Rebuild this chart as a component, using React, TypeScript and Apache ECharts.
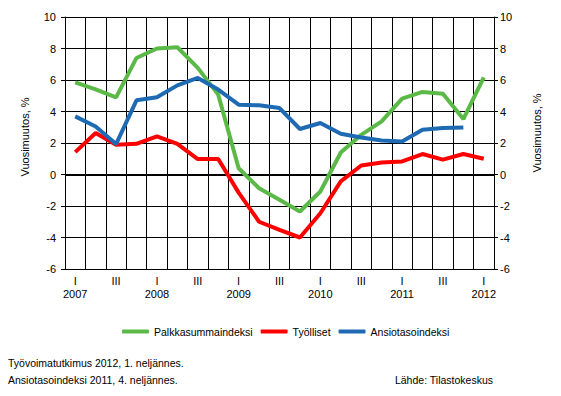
import React, { useEffect, useRef } from "react";
import * as echarts from "echarts";

const categories = [
  "2007 I", "2007 II", "2007 III", "2007 IV",
  "2008 I", "2008 II", "2008 III", "2008 IV",
  "2009 I", "2009 II", "2009 III", "2009 IV",
  "2010 I", "2010 II", "2010 III", "2010 IV",
  "2011 I", "2011 II", "2011 III", "2011 IV",
  "2012 I",
];

const palkkasumma = [5.85, 5.4, 4.9, 7.4, 8.0, 8.08, 6.77, 5.07, 0.4, -0.87, -1.6, -2.35, -1.08, 1.4, 2.52, 3.37, 4.82, 5.24, 5.13, 3.52, 6.17];
const tyolliset = [1.42, 2.63, 1.89, 1.95, 2.42, 1.95, 0.98, 0.98, -1.15, -3.0, -3.52, -4.0, -2.46, -0.44, 0.57, 0.76, 0.83, 1.3, 0.94, 1.3, 1.0];
const ansiotaso = [3.69, 3.05, 1.93, 4.71, 4.9, 5.66, 6.13, 5.39, 4.43, 4.39, 4.22, 2.89, 3.27, 2.59, 2.35, 2.16, 2.1, 2.84, 2.95, 2.99, null];

const seriesNames = ["Palkkasummaindeksi", "Työlliset", "Ansiotasoindeksi"];
const colors = ["#5bb947", "#ff0000", "#1f6bb3"];

const FONT = "Arial, 'Liberation Sans', sans-serif";
const NOTE_SIZE = 10.5;

export default function App() {
  const ref = useRef<HTMLDivElement>(null);

  useEffect(() => {
    document.body.style.margin = "0";
    if (!ref.current) return;
    const chart = echarts.init(ref.current, undefined, { renderer: "svg" });
    const yAxisBase = {
      type: "value",
      min: -6,
      max: 10,
      interval: 2,
      axisLine: { show: true, lineStyle: { color: "#000", width: 1 } },
      axisTick: { show: true, length: 4, lineStyle: { color: "#000" } },
      axisLabel: { color: "#000", fontSize: 11, fontFamily: FONT },
    };
    chart.setOption({
      animation: false,
      backgroundColor: "#fff",
      textStyle: { fontFamily: FONT },
      grid: { left: 65, right: 67, top: 17, height: 252 },
      legend: {
        left: 117,
        top: 321,
        icon: "roundRect",
        itemWidth: 27,
        itemHeight: 4,
        itemGap: 8,
        textStyle: { color: "#000", fontSize: NOTE_SIZE, fontFamily: FONT },
        data: seriesNames,
      },
      xAxis: {
        type: "category",
        data: categories,
        boundaryGap: true,
        axisLine: { show: true, lineStyle: { color: "#000", width: 1 } },
        axisTick: { show: false },
        splitLine: { show: true, interval: 0, lineStyle: { color: "#000", width: 1 } },
        axisLabel: {
          interval: 0,
          color: "#000",
          fontSize: 11,
          fontFamily: FONT,
          lineHeight: 13,
          margin: 5,
          formatter: (value: string) => {
            const [year, q] = value.split(" ");
            if (q === "I") return "I\n" + year;
            if (q === "III") return "III";
            return "";
          },
        },
      },
      yAxis: [
        {
          ...yAxisBase,
          position: "left",
          splitLine: { show: true, lineStyle: { color: "#000", width: 1 } },
          axisLabel: { ...yAxisBase.axisLabel, margin: 9 },
        },
        {
          ...yAxisBase,
          position: "right",
          splitLine: { show: false },
          axisLabel: { ...yAxisBase.axisLabel, margin: 6 },
        },
      ],
      graphic: [
        {
          type: "text",
          x: 25,
          y: 137,
          rotation: Math.PI / 2,
          style: { text: "Vuosimuutos, %", fill: "#000", fontSize: 11, fontFamily: FONT, align: "center", verticalAlign: "middle" },
        },
        {
          type: "text",
          x: 537,
          y: 133,
          rotation: Math.PI / 2,
          style: { text: "Vuosimuutos, %", fill: "#000", fontSize: 11, fontFamily: FONT, align: "center", verticalAlign: "middle" },
        },
        {
          type: "text",
          x: 8,
          y: 363,
          style: { text: "Työvoimatutkimus 2012, 1. neljännes.", fill: "#000", fontSize: NOTE_SIZE, fontFamily: FONT, verticalAlign: "middle" },
        },
        {
          type: "text",
          x: 8,
          y: 380,
          style: { text: "Ansiotasoindeksi 2011, 4. neljännes.", fill: "#000", fontSize: NOTE_SIZE, fontFamily: FONT, verticalAlign: "middle" },
        },
        {
          type: "text",
          x: 493,
          y: 380,
          style: { text: "Lähde: Tilastokeskus", fill: "#000", fontSize: NOTE_SIZE, fontFamily: FONT, align: "right", verticalAlign: "middle" },
        },
      ],
      series: [
        {
          name: seriesNames[0],
          type: "line",
          data: palkkasumma,
          symbol: "none",
          lineStyle: { width: 4, color: colors[0] },
          itemStyle: { color: colors[0] },
          z: 3,
          markLine: {
            silent: true,
            symbol: "none",
            label: { show: false },
            lineStyle: { color: "#000", width: 2, type: "solid" },
            data: [{ yAxis: 0 }],
            z: 2,
          },
        },
        {
          name: seriesNames[1],
          type: "line",
          data: tyolliset,
          symbol: "none",
          lineStyle: { width: 4, color: colors[1] },
          itemStyle: { color: colors[1] },
          z: 4,
        },
        {
          name: seriesNames[2],
          type: "line",
          data: ansiotaso,
          symbol: "none",
          lineStyle: { width: 4, color: colors[2] },
          itemStyle: { color: colors[2] },
          z: 5,
        },
      ],
    });
    return () => chart.dispose();
  }, []);

  return <div ref={ref} style={{ width: 561, height: 396 }} />;
}
